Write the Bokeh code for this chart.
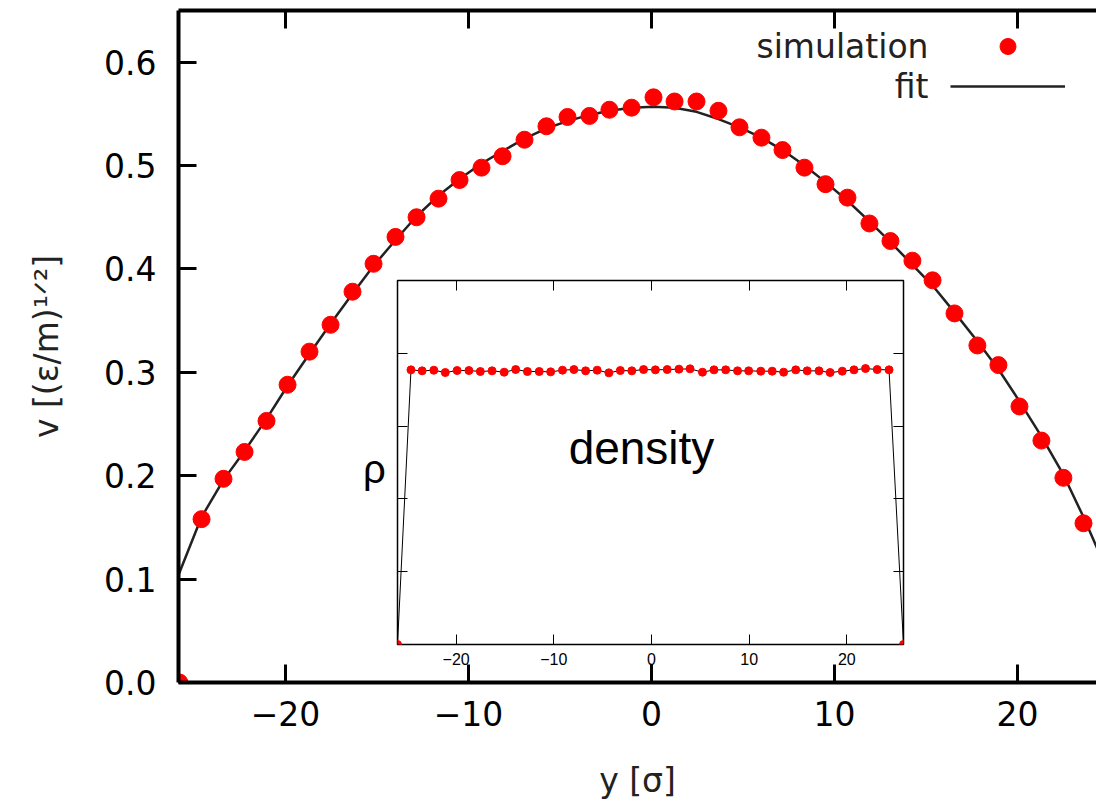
from bokeh.plotting import figure
from bokeh.models import (Range1d, FixedTicker, LinearAxis, Label, Legend, LegendItem,
                          GridBox, NumeralTickFormatter, CustomJSTickFormatter)
from bokeh.core.properties import value
from bokeh.embed import file_html
from bokeh.resources import INLINE

# ---------------- data ----------------
sim_x = [-25.8, -24.59, -23.39, -22.24, -21.04, -19.89, -18.69, -17.54, -16.34, -15.19,
         -13.99, -12.84, -11.64, -10.49, -9.29, -8.14, -6.94, -5.74, -4.59, -3.39,
         -2.30, -1.09, 0.11, 1.26, 2.46, 3.66, 4.81, 6.01, 7.16, 8.36,
         9.51, 10.71, 11.91, 13.06, 14.26, 15.36, 16.56, 17.81, 18.96, 20.11,
         21.31, 22.51, 23.61]
sim_v = [0.0, 0.158, 0.197, 0.223, 0.253, 0.288, 0.320, 0.346, 0.378, 0.405,
         0.431, 0.450, 0.468, 0.486, 0.498, 0.509, 0.525, 0.538, 0.547, 0.548,
         0.554, 0.556, 0.566, 0.562, 0.562, 0.553, 0.537, 0.527, 0.515, 0.498,
         0.482, 0.469, 0.444, 0.427, 0.408, 0.389, 0.357, 0.326, 0.307, 0.267,
         0.234, 0.198, 0.154]

fit_x = [-25.85, -24.59, -23.39, -22.24, -21.04, -19.89, -18.69, -17.54, -16.34, -15.19,
         -13.99, -12.84, -11.64, -10.49, -9.29, -8.14, -6.94, -5.74, -4.59, -3.39,
         -2.30, -1.09, 0.11, 1.26, 2.46, 3.66, 4.81, 6.01, 7.16, 8.36,
         9.51, 10.71, 11.91, 13.06, 14.26, 15.36, 16.56, 17.81, 18.96, 20.11,
         21.31, 22.51, 23.61, 24.40]
fit_v = [0.104, 0.160, 0.196, 0.224, 0.255, 0.287, 0.318, 0.347, 0.376, 0.403,
         0.428, 0.451, 0.471, 0.487, 0.502, 0.514, 0.526, 0.536, 0.543, 0.549,
         0.553, 0.556, 0.557, 0.556, 0.552, 0.545, 0.537, 0.527, 0.515, 0.500,
         0.484, 0.466, 0.446, 0.426, 0.404, 0.384, 0.358, 0.330, 0.303, 0.272,
         0.238, 0.201, 0.160, 0.128]

dens_x = [-26.0, -24.62, -23.48, -22.28, -21.11, -19.90, -18.69, -17.52, -16.32, -15.08,
          -13.90, -12.70, -11.49, -10.32, -9.11, -7.94, -6.74, -5.56, -4.36, -3.19,
          -2.01, -0.81, 0.40, 1.61, 2.81, 3.95, 5.22, 6.40, 7.60, 8.81,
          9.95, 11.19, 12.36, 13.53, 14.77, 15.94, 17.15, 18.29, 19.53, 20.73,
          21.91, 23.11, 24.32, 25.8]
dens_rho = [0.0, 0.7545, 0.7518, 0.7536, 0.7472, 0.7527, 0.7527, 0.7500, 0.7518, 0.7481,
            0.7554, 0.7500, 0.7500, 0.7490, 0.7536, 0.7554, 0.7518, 0.7536, 0.7463, 0.7527,
            0.7518, 0.7554, 0.7545, 0.7554, 0.7564, 0.7573, 0.7481, 0.7545, 0.7545, 0.7518,
            0.7518, 0.7509, 0.7509, 0.7481, 0.7545, 0.7518, 0.7518, 0.7472, 0.7509, 0.7545,
            0.7582, 0.7554, 0.7545, 0.0]

main_xticks = [-20, -10, 0, 10, 20]
main_yticks = [0.0, 0.1, 0.2, 0.3, 0.4, 0.5, 0.6]
inset_xticks = [-20, -10, 0, 10, 20]
inset_yticks = [0.2, 0.4, 0.6, 0.8]
legend_labels = ["simulation", "fit"]

MAIN_FONT = "DejaVu Sans"
INSET_FONT = "Liberation Sans"
blank = CustomJSTickFormatter(code="return ''")

# ---------------- main figure ----------------
p = figure(width=1096, height=802, x_range=Range1d(-25.85, 24.32), y_range=Range1d(0, 0.65),
           output_backend="svg", toolbar_location=None,
           min_border_left=178, min_border_right=0, min_border_top=10, min_border_bottom=118)
p.outline_line_color = None
p.xgrid.visible = False
p.ygrid.visible = False
p.background_fill_color = "white"
p.border_fill_color = "white"

for ax in (p.xaxis[0], p.yaxis[0]):
    ax.axis_line_width = 4
    ax.major_tick_in = 18
    ax.major_tick_out = 0
    ax.major_tick_line_width = 3
    ax.minor_tick_line_color = None
    ax.major_label_text_font = MAIN_FONT
    ax.major_label_text_font_size = "33px"
    ax.major_label_text_color = "black"
    ax.axis_label_text_font = MAIN_FONT
    ax.axis_label_text_font_size = "33px"
    ax.axis_label_text_font_style = "normal"
    ax.axis_label_text_color = "#222222"
p.xaxis.ticker = FixedTicker(ticks=main_xticks)
p.yaxis.ticker = FixedTicker(ticks=main_yticks)
p.yaxis.formatter = NumeralTickFormatter(format="0.0")
p.xaxis.major_label_standoff = 18
p.yaxis.major_label_standoff = 22
p.xaxis.axis_label = "y [σ]"
p.xaxis.axis_label_standoff = 32
p.yaxis.axis_label = "v [(ε/m)¹ᐟ²]"
p.yaxis.axis_label_standoff = 35

top_ax = LinearAxis(ticker=FixedTicker(ticks=main_xticks), formatter=blank,
                    axis_line_width=4, major_tick_in=18, major_tick_out=0,
                    major_tick_line_width=3, minor_tick_line_color=None,
                    major_label_standoff=0)
p.add_layout(top_ax, "above")

fit_r = p.line(fit_x, fit_v, line_color="#222222", line_width=2.5)
sim_r = p.scatter(sim_x, sim_v, size=17, fill_color="red", line_color="red")

# legend samples (gnuplot style: the texts are set to the left of the samples)
legend = Legend(items=[LegendItem(label=value(" "), renderers=[sim_r]),
                       LegendItem(label=value(" "), renderers=[fit_r])],
                location=(772, 576), glyph_width=115, glyph_height=40, spacing=0,
                padding=0, margin=0, label_standoff=0, label_width=1, label_height=1,
                label_text_font_size="1px",
                border_line_color=None, background_fill_alpha=0)
p.add_layout(legend)

def lab(fig, text, x, y, size, font=MAIN_FONT, align="left", color="black"):
    fig.add_layout(Label(x=x, y=y, x_units="screen", y_units="screen", text=text,
                         text_font=font, text_font_size=size, text_align=align,
                         text_baseline="middle", text_color=color))

lab(p, legend_labels[0], 750, 636, "33px", align="right", color="#222222")
lab(p, legend_labels[1], 750, 596, "33px", align="right", color="#222222")
lab(p, "ρ", 196, 214, "40px", font=INSET_FONT, align="center")

# ---------------- inset ----------------
ins = figure(width=557, height=404, x_range=Range1d(-26.0, 25.8), y_range=Range1d(0, 1),
             output_backend="svg", toolbar_location=None,
             min_border_left=47, min_border_right=4, min_border_top=4, min_border_bottom=36)
ins.outline_line_color = "black"
ins.outline_line_width = 1.5
ins.border_fill_alpha = 0
ins.background_fill_color = "white"
ins.xgrid.visible = False
ins.ygrid.visible = False
ins.xaxis.ticker = FixedTicker(ticks=inset_xticks)
ins.yaxis.ticker = FixedTicker(ticks=inset_yticks)
ins.yaxis.formatter = blank
for ax in (ins.xaxis[0], ins.yaxis[0]):
    ax.axis_line_color = None
    ax.major_tick_in = 10
    ax.major_tick_out = 0
    ax.major_tick_line_width = 1
    ax.minor_tick_line_color = None
    ax.major_label_text_font = INSET_FONT
    ax.major_label_text_font_size = "16px"
    ax.major_label_text_color = "black"
ins.xaxis.major_label_standoff = 8
ins.yaxis.major_label_standoff = 0
ins.add_layout(LinearAxis(ticker=FixedTicker(ticks=inset_xticks), formatter=blank,
                          axis_line_color=None, major_tick_in=10, major_tick_out=0,
                          minor_tick_line_color=None, major_label_standoff=0), "above")
ins.add_layout(LinearAxis(ticker=FixedTicker(ticks=inset_yticks), formatter=blank,
                          axis_line_color=None, major_tick_in=10, major_tick_out=0,
                          minor_tick_line_color=None, major_label_standoff=0), "right")

ins.line(dens_x, dens_rho, line_color="black", line_width=1)
ins.scatter(dens_x, dens_rho, size=8, fill_color="red", line_color="red")

lab(ins, "density", 244, 197, "46px", font=INSET_FONT, align="center")

grid = GridBox(children=[(p, 0, 0, 3, 3), (ins, 1, 1, 1, 1)],
               rows=["276px", "404px", "122px"], cols=["350px", "557px", "189px"], spacing=0)

open("out.html", "w").write(file_html(grid, INLINE))
